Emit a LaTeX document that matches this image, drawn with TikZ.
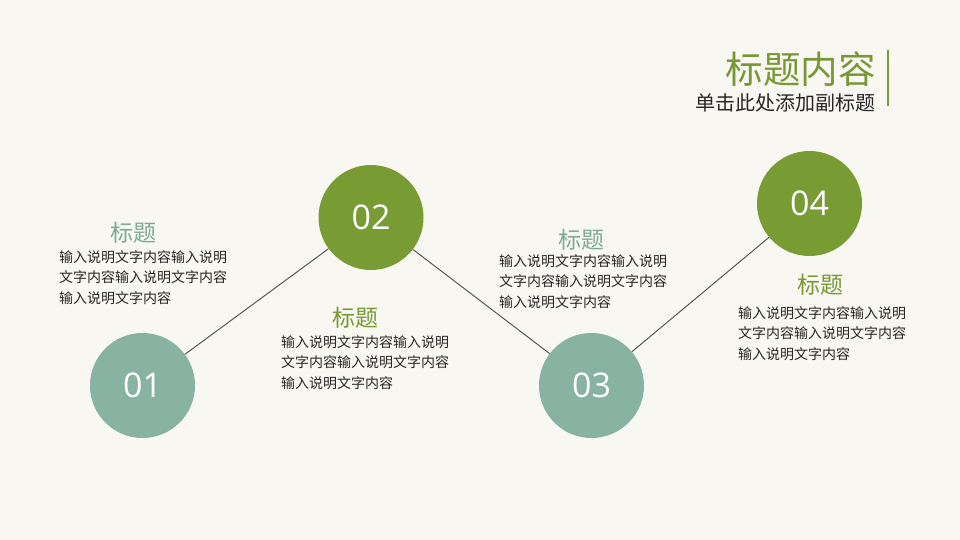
\documentclass[tikz,border=0pt]{standalone}
\usepackage{fontspec}
\setmainfont{Open Sans}
\newfontfamily\cjk{Noto Sans CJK SC}
\definecolor{bgc}{HTML}{F8F7F1}
\definecolor{teal1}{HTML}{88B2A2}
\definecolor{green1}{HTML}{789B33}
\definecolor{tealtxt}{HTML}{7FA998}
\definecolor{greentxt}{HTML}{779835}
\definecolor{bodytxt}{HTML}{262626}
\definecolor{linec}{HTML}{4A4A4A}
\begin{document}
\begin{tikzpicture}[x=1pt,y=-1pt,
  numcirc/.style={circle,minimum size=105pt,inner sep=0pt,text=white,font=\fontsize{34}{34}\selectfont},
  tealc/.style={numcirc,fill=teal1},
  greenc/.style={numcirc,fill=green1},
  headtxt/.style={font=\cjk\fontsize{23}{23}\selectfont,inner sep=0pt},
  bodyblock/.style={font=\cjk\fontsize{14}{20.8}\selectfont,text=bodytxt,align=left,anchor=north west,inner sep=0pt},
  conn/.style={draw=linec,line width=0.9pt}]
\fill[bgc] (0,0) rectangle (960,540);
\useasboundingbox (0,0) rectangle (960,540);

% title
\node[font=\cjk\fontsize{37.5}{37.5}\selectfont,text=greentxt,anchor=east,inner sep=0pt] (title) at (876,69) {标题内容};
\node[font=\cjk\fontsize{20}{20}\selectfont,text=bodytxt,anchor=east,inner sep=0pt] (subtitle) at (876,103) {单击此处添加副标题};
\coordinate (vt) at (888,50);
\coordinate (vb) at (888,106);
\draw[green1,line width=1.3pt] (vt) -- (vb);

% circles
\node[tealc] (c1) at (142.5,385.5) {01};
\node[greenc] (c2) at (371,217.5) {02};
\node[tealc] (c3) at (591.5,385.5) {03};
\node[greenc] (c4) at (809.5,203.5) {04};

\draw[conn] (c1) -- (c2);
\draw[conn] (c2) -- (c3);
\draw[conn] (c3) -- (c4);

% text blocks
\node[headtxt,text=tealtxt] (h1) at (133,233) {标题};
\node[bodyblock] (b1) at (59,250) {输入说明文字内容输入说明\\文字内容输入说明文字内容\\输入说明文字内容};

\node[headtxt,text=greentxt] (h2) at (355,318) {标题};
\node[bodyblock] (b2) at (281,335) {输入说明文字内容输入说明\\文字内容输入说明文字内容\\输入说明文字内容};

\node[headtxt,text=tealtxt] (h3) at (581,240) {标题};
\node[bodyblock] (b3) at (499,254) {输入说明文字内容输入说明\\文字内容输入说明文字内容\\输入说明文字内容};

\node[headtxt,text=greentxt] (h4) at (820,285) {标题};
\node[bodyblock] (b4) at (738,306) {输入说明文字内容输入说明\\文字内容输入说明文字内容\\输入说明文字内容};
\end{tikzpicture}
\end{document}
